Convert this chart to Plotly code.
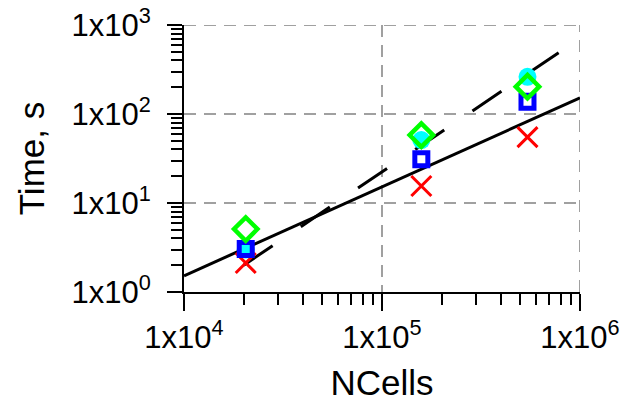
import plotly.graph_objects as go

# Data (log-log)
ncells = [20500, 158000, 543000]
t_red = [2.12, 15.5, 55]
t_cyan = [3.0, 51, 262]
t_blue = [3.04, 31, 137]
t_green = [5.1, 58, 203]

# Reference scaling lines
lin_x = [1e4, 1e6]
lin_y = [1.52, 152]
pow_x = [2e4, 7.8e5]
pow_y = [2.0, 487]

xtick_vals = [1e4, 1e5, 1e6]
xtick_text = ["1x10<sup>4</sup>", "1x10<sup>5</sup>", "1x10<sup>6</sup>"]
ytick_vals = [1, 10, 100, 1000]
ytick_text = ["1x10<sup>0</sup>", "1x10<sup>1</sup>", "1x10<sup>2</sup>", "1x10<sup>3</sup>"]
x_minor = [m * 10 ** d for d in (4, 5) for m in range(2, 10)]
y_minor = [m * 10 ** d for d in (0, 1, 2) for m in range(2, 10)]

fig = go.Figure()
fig.add_trace(go.Scatter(x=lin_x, y=lin_y, mode="lines",
                         line=dict(color="black", width=3), showlegend=False))
fig.add_trace(go.Scatter(x=pow_x, y=pow_y, mode="lines",
                         line=dict(color="black", width=3, dash="35px,34px"), showlegend=False))
fig.add_trace(go.Scatter(x=ncells, y=t_red, mode="markers",
                         marker=dict(symbol="x-thin-open", size=20, color="#ff0000",
                                     line=dict(color="#ff0000", width=3)),
                         showlegend=False))
fig.add_trace(go.Scatter(x=ncells, y=t_cyan, mode="markers",
                         marker=dict(symbol="circle", size=18, color="#00ffff", line=dict(width=0)),
                         showlegend=False))
fig.add_trace(go.Scatter(x=ncells, y=t_blue, mode="markers",
                         marker=dict(symbol="square-open", size=13, color="#0000ff",
                                     line=dict(color="#0000ff", width=5)),
                         showlegend=False))
fig.add_trace(go.Scatter(x=ncells, y=t_green, mode="markers",
                         marker=dict(symbol="diamond-open", size=18, color="#00ff00",
                                     line=dict(color="#00ff00", width=4.5)),
                         showlegend=False))

grid = dict(color="#a0a0a0", width=2, dash="12px,8px")
fig.add_shape(type="line", xref="x", yref="paper", x0=1e6, x1=1e6, y0=0, y1=1, line=grid, layer="below")
fig.add_shape(type="line", xref="paper", yref="y", x0=0, x1=1, y0=1000, y1=1000, line=grid, layer="below")

font = "Liberation Sans, Arial, sans-serif"
fig.update_layout(
    width=643, height=402,
    margin=dict(l=183.5, r=63, t=25, b=110, pad=0),
    paper_bgcolor="white", plot_bgcolor="white",
    font=dict(family=font, color="black"),
    xaxis=dict(type="log", range=[4, 6], tickvals=xtick_vals, ticktext=xtick_text, automargin=False,
               ticklabeloverflow="allow",
               tickfont=dict(size=31), ticks="outside", ticklen=17, tickwidth=2, tickcolor="black",
               showline=True, linecolor="black", linewidth=2,
               showgrid=True, gridcolor="#a0a0a0", gridwidth=2, griddash="12px,8px",
               zeroline=False,
               minor=dict(tickmode="array", tickvals=x_minor, ticks="outside", ticklen=11,
                          tickwidth=2, tickcolor="black", showgrid=False),
               title=dict(text="NCells", font=dict(size=35), standoff=18)),
    yaxis=dict(type="log", range=[0, 3], tickvals=ytick_vals, ticktext=ytick_text, automargin=False,
               ticklabeloverflow="allow", ticklabelstandoff=10,
               tickfont=dict(size=31), ticks="outside", ticklen=15, tickwidth=2, tickcolor="black",
               showline=True, linecolor="black", linewidth=2,
               showgrid=True, gridcolor="#a0a0a0", gridwidth=2, griddash="12px,8px",
               zeroline=False,
               minor=dict(tickmode="array", tickvals=y_minor, ticks="outside", ticklen=11,
                          tickwidth=2, tickcolor="black", showgrid=False),
               title=dict(text="Time, s", font=dict(size=35), standoff=16)),
)
fig.write_html("out.html", config={"displayModeBar": False},
               post_script="document.body.style.margin='0';")
